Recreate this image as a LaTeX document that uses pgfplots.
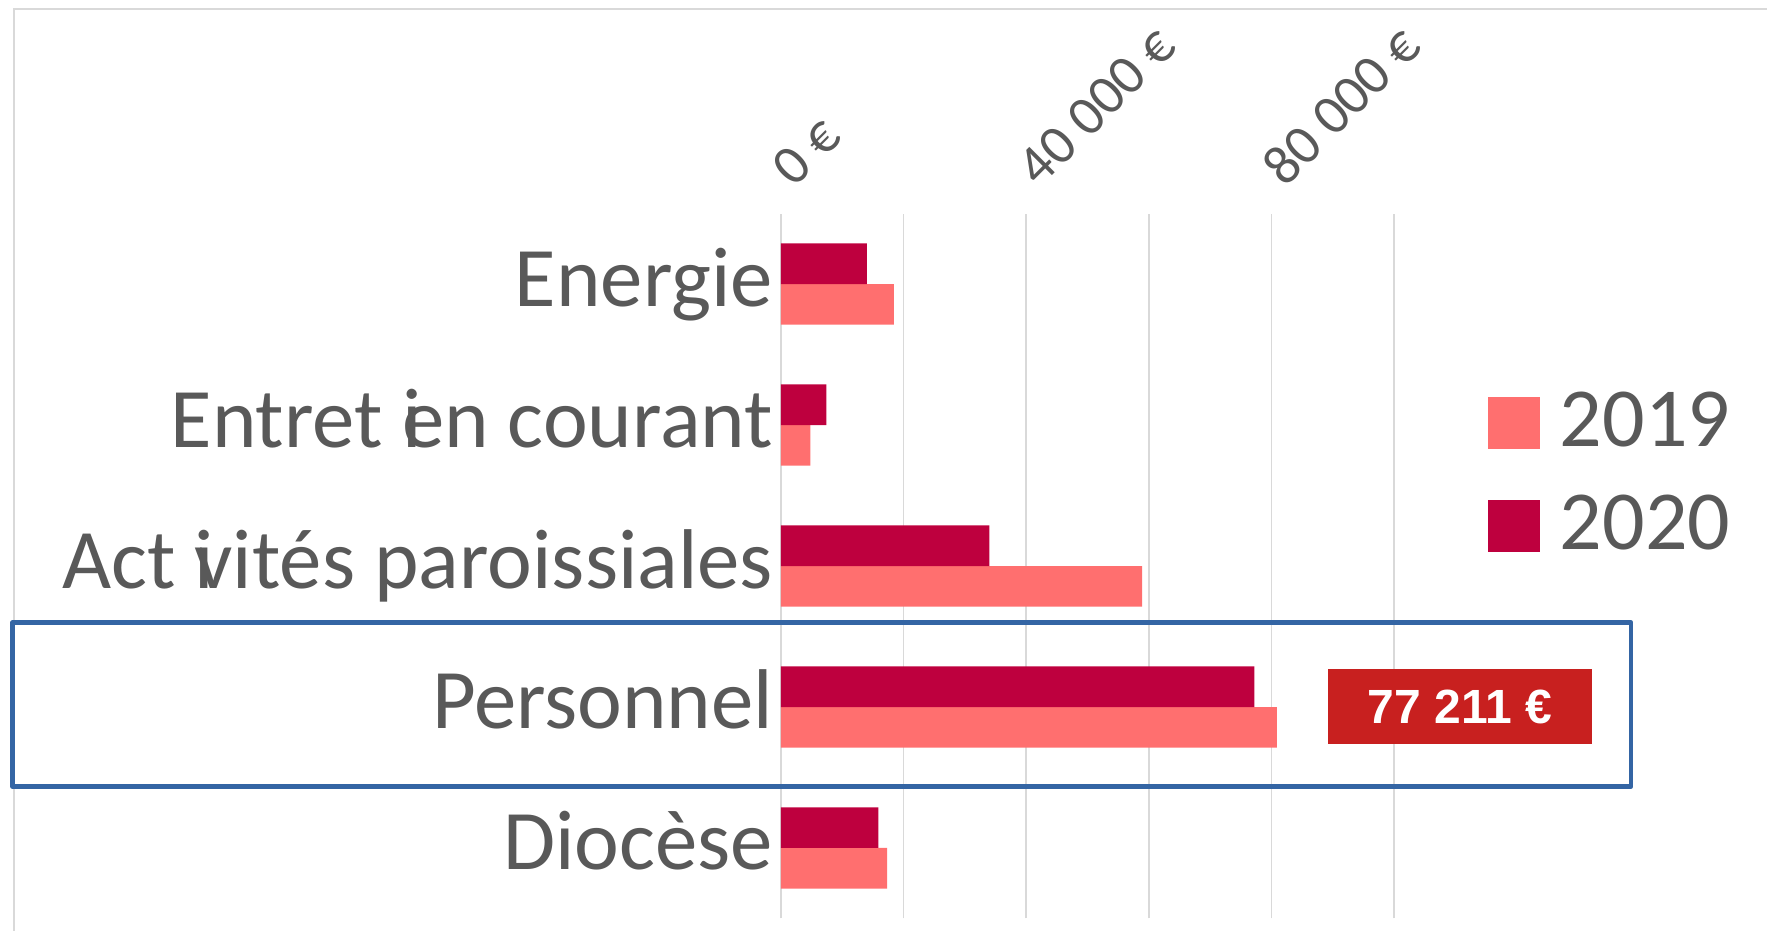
\documentclass[border=0pt]{standalone}
\usepackage{fontspec}
\setmainfont{Carlito}
\newfontfamily\badgefont{Liberation Sans}
\usepackage{pgfplots}
\pgfplotsset{compat=1.18}

\definecolor{c2019}{RGB}{255,111,111}
\definecolor{c2020}{RGB}{190,0,62}
\definecolor{txtgray}{RGB}{89,89,89}
\definecolor{gridgray}{RGB}{217,217,217}
\definecolor{boxblue}{RGB}{52,101,164}
\definecolor{badgered}{RGB}{200,32,31}

\begin{document}
\begin{tikzpicture}
% page = 1767 x 931 px at 4 px per pt
\path[use as bounding box] (0,0) rectangle (441.75pt,232.75pt);
% chart area border (top and left visible)
\draw[gridgray, line width=0.5pt] (3.375pt,0pt) -- (3.375pt,230.5pt) -- (441.75pt,230.5pt);

\begin{axis}[
  at={(195.25pt,3.125pt)}, anchor=south west,
  scale only axis, width=153.25pt, height=176.25pt,
  xmin=0, xmax=100000, ymin=-0.5, ymax=4.5,
  xbar, bar width=10.15pt,
  axis line style={draw=none}, tick style={draw=none},
  scaled x ticks=false,
  xtick={0,20000,40000,60000,80000,100000},
  xticklabels={0 €,,40 000 €,,80 000 €,},
  xticklabel pos=upper,
  xmajorgrids, grid style={draw=gridgray, line width=0.4pt},
  ytick={0,1,2,3,4},
  yticklabels={Diocèse,Personnel,Act \rlap{i}vités paroissiales,Entret \rlap{i}en courant,Energie},
  xticklabel style={xshift=3.5pt, yshift=6pt, rotate=45, anchor=south west, inner sep=0pt,
    font=\fontsize{14}{17}\selectfont, text=txtgray},
  yticklabel style={anchor=base east, inner sep=0pt, xshift=2.5pt, yshift=-5.5pt,
    font=\fontsize{21.2}{25}\selectfont, text=txtgray},
  legend image code/.code={\fill[#1, draw=none] (0pt,-0.5pt) rectangle (13pt,12.5pt);},
  legend style={at={(1.1533,0.7468)}, anchor=north west, draw=none, fill=none,
    inner sep=0pt, outer sep=0pt, row sep=10.7pt, column sep=5pt,
    font=\fontsize{21}{25}\selectfont, text=txtgray,
    nodes={inner sep=0pt}, cells={anchor=base west}},
]
\addplot[fill=c2019, draw=none, bar shift=-5.075pt] coordinates {
  (18400,4) (4800,3) (58900,2) (80900,1) (17300,0)
};
\addlegendentry{2019}
\addplot[fill=c2020, draw=none, bar shift=5.075pt] coordinates {
  (14000,4) (7400,3) (34000,2) (77211,1) (15900,0)
};
\addlegendentry{2020}
\end{axis}

% highlight box round Personnel
\draw[boxblue, line width=1.2pt, line join=round] (3.125pt,36.125pt) rectangle (407.75pt,77.125pt);
% value badge
\node[fill=badgered, text=white, minimum width=66.1pt, minimum height=18.7pt, inner sep=0pt,
  font=\badgefont\bfseries\fontsize{12}{14}\selectfont] at (364.95pt,56.1pt) {77 211 €};
\end{tikzpicture}
\end{document}
